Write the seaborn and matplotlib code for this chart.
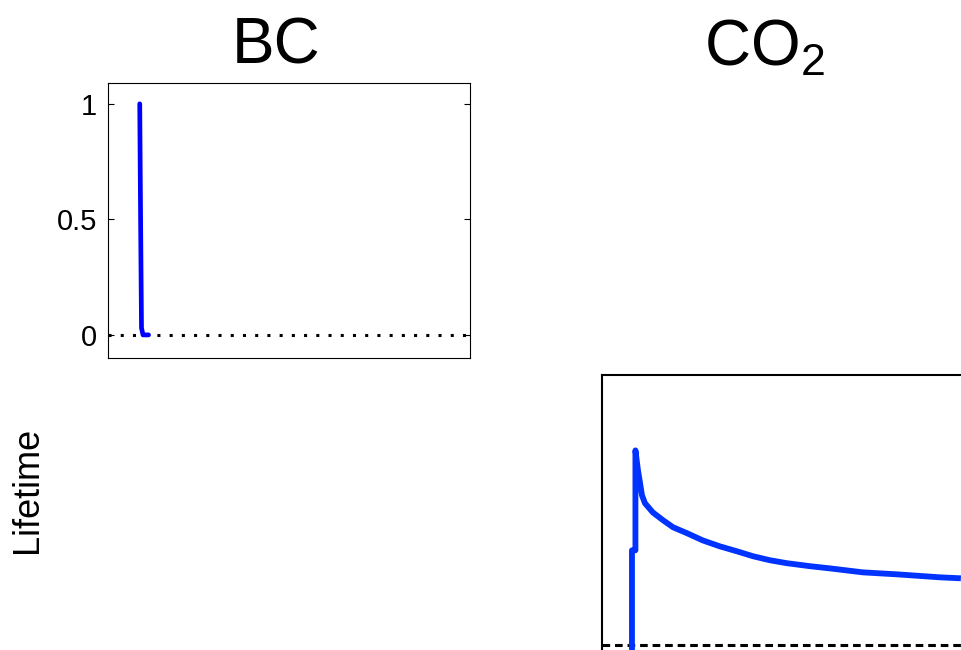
import numpy as np
import pandas as pd
import matplotlib
matplotlib.use("Agg")
import matplotlib.pyplot as plt
import seaborn as sns

# -------------------------------
# DATA
# -------------------------------

bc_time = [8.76, 9.0, 9.25, 9.67, 11.2]
bc_response = [1.0, 0.5, 0.03, 0.0, 0.0]

co2_time = [6.67, 6.67, 7.44, 7.44, 8.0, 8.44, 8.89, 9.56, 11.3, 13.6,
            15.8, 18.9, 22.4, 26.2, 30.0, 33.6, 37.3, 41.1, 46.2, 50.7,
            58.0, 65.6, 75.1, 79.8]
co2_response = [-0.1, 0.383, 0.383, 0.786, 0.706, 0.657, 0.605, 0.573, 0.536, 0.504,
                0.476, 0.452, 0.423, 0.399, 0.379, 0.359, 0.343, 0.331, 0.319, 0.310,
                0.294, 0.286, 0.274, 0.270]

y_ticks = [0, 0.5, 1]
y_tick_labels = ["0", "0.5", "1"]

panel_titles = ["BC", r"CO$_\mathregular{2}$"]
y_label = "Lifetime"

# -------------------------------
# STYLE
# -------------------------------

sns.set_style("white")
plt.rcParams["font.family"] = ["Liberation Sans", "DejaVu Sans"]
plt.rcParams["text.color"] = "black"

fig = plt.figure(figsize=(9.61, 6.5), dpi=100)

# ---------------- BC panel ----------------

ax1 = fig.add_axes([0.1124, 0.4492, 0.3767, 0.4231])
bc_df = pd.DataFrame({"t": bc_time, "r": bc_response})
ax1.axhline(0, color="black", lw=2.2, linestyle=(0, (1, 3)), zorder=1)
sns.lineplot(data=bc_df, x="t", y="r", ax=ax1, sort=False, estimator=None,
             color="#0000ff", lw=3.4, solid_capstyle="round",
             solid_joinstyle="round", zorder=3)
ax1.set_xlim(0, 100)
ax1.set_ylim(-0.1, 1.09)
ax1.set_xticks([])
ax1.set_yticks(y_ticks)
ax1.set_yticklabels(y_tick_labels)
ax1.tick_params(axis="y", direction="in", right=True, left=True, length=4,
                width=0.8, labelsize=21, pad=8, colors="black")
ax1.set_xlabel("")
ax1.set_ylabel("")
for s in ax1.spines.values():
    s.set_color("black")
    s.set_linewidth(0.8)

# ---------------- CO2 panel ----------------

ax2 = fig.add_axes([0.6264, -0.0308, 0.468, 0.4538])
co2_df = pd.DataFrame({"t": co2_time, "r": co2_response})
ax2.axhline(0, color="black", lw=2.2, linestyle=(0, (2.5, 1.6)), zorder=1)
sns.lineplot(data=co2_df, x="t", y="r", ax=ax2, sort=False, estimator=None,
             color="#0033ff", lw=4.2, solid_capstyle="butt", zorder=3)
ax2.set_xlim(0, 100)
ax2.set_ylim(-0.1, 1.09)
ax2.set_xticks([])
ax2.set_yticks([])
ax2.set_xlabel("")
ax2.set_ylabel("")
for s in ax2.spines.values():
    s.set_color("black")
    s.set_linewidth(1.5)

# ---------------- texts ----------------

fig.text(276 / 961, 1 - 63 / 650, panel_titles[0], ha="center",
         va="baseline", fontsize=46, color="black")
fig.text(765 / 961, 1 - 65 / 650, panel_titles[1], ha="center",
         va="baseline", fontsize=46, color="black")
fig.text(28 / 961, 1 - 490 / 650, y_label, rotation=90, ha="center",
         va="center", fontsize=26, color="black")

fig.savefig("out.png", dpi=100)
